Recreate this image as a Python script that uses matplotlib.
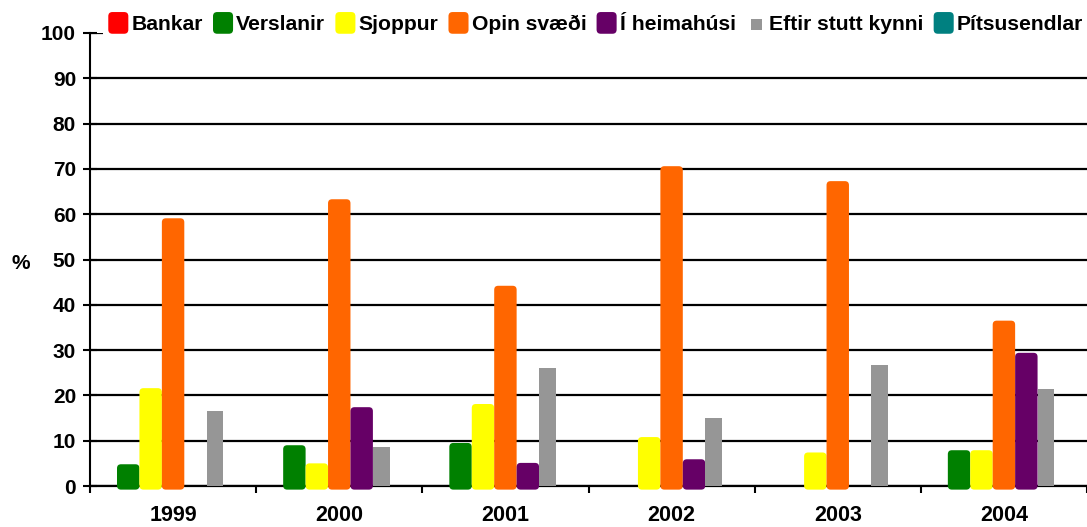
import numpy as np
import matplotlib.pyplot as plt
from matplotlib.patches import FancyBboxPatch, Patch
from matplotlib.legend_handler import HandlerPatch

plt.rcParams['font.family'] = ['Liberation Sans', 'DejaVu Sans']
plt.rcParams['font.weight'] = 'bold'

years = ['1999', '2000', '2001', '2002', '2003', '2004']
series = ['Bankar', 'Verslanir', 'Sjoppur', 'Opin svæði', 'Í heimahúsi',
          'Eftir stutt kynni', 'Pítsusendlar']
bankar = [0, 0, 0, 0, 0, 0]
verslanir = [4.8, 9.0, 9.5, 0, 0, 7.9]
sjoppur = [21.6, 5.0, 18.1, 10.8, 7.4, 7.9]
opin_svaedi = [59.1, 63.3, 44.2, 70.6, 67.3, 36.5]
i_heimahusi = [0, 17.4, 5.1, 5.9, 0, 29.4]
eftir_stutt_kynni = [16.6, 8.5, 26.0, 15.0, 26.7, 21.4]
pitsusendlar = [0, 0, 0, 0, 0, 0]

values = [bankar, verslanir, sjoppur, opin_svaedi, i_heimahusi,
          eftir_stutt_kynni, pitsusendlar]
colors = ['#FF0000', '#008000', '#FFFF00', '#FF6600', '#660066', '#969696', '#008080']
rounded = [True, True, True, True, True, False, True]

fig = plt.figure(figsize=(10.87, 5.27), dpi=100)
ax = fig.add_axes([90/1087, 1-486/527, 997/1087, 453/527])

w = 0.135
x = np.arange(len(years)) + 0.5
rx = 4/166.2
asp = (4/4.53) / rx
for j, vals in enumerate(values):
    left = x + (j - 3.5) * w
    bw = w if rounded[j] else 0.1
    bars = ax.bar(left, vals, width=bw, align='edge', color=colors[j], zorder=3)
    if not rounded[j]:
        continue
    # swap the plain rectangles for rounded ones, a bit below the baseline
    for r in bars:
        h = r.get_height()
        r.remove()
        if h <= 0:
            continue
        p = FancyBboxPatch((r.get_x(), -0.8), r.get_width(), h + 0.8,
                           boxstyle=f'round,pad=0,rounding_size={rx}',
                           mutation_aspect=asp, facecolor=r.get_facecolor(),
                           edgecolor='none', zorder=3, clip_on=False)
        ax.add_patch(p)

ax.set_xlim(0, 6)
ax.set_ylim(0, 100)
ax.set_yticks(np.arange(0, 101, 10))
ax.grid(axis='y', color='black', linewidth=1.6, zorder=1)
ax.set_axisbelow(True)
for s in ['top', 'right']:
    ax.spines[s].set_visible(False)
ax.spines['left'].set_linewidth(1.5)
ax.spines['bottom'].set_linewidth(1.6)
ax.tick_params(axis='y', direction='inout', length=10, width=1.5, labelsize=15, pad=5)
ax.set_xticks(np.arange(0, 7))
ax.set_xticklabels([])
ax.set_xticks(x, minor=True)
ax.set_xticklabels(years, minor=True, fontsize=15.5)
ax.tick_params(axis='x', which='major', direction='out', length=5, width=1.5)
ax.tick_params(axis='x', which='minor', length=0, pad=14)
ax.set_ylabel('%', rotation=0, fontsize=15, fontweight='bold')
ax.yaxis.set_label_coords(-0.0697, 0.47)


def rounded_handle(legend, orig_handle, xdescent, ydescent, width, height, fontsize):
    return FancyBboxPatch((-xdescent, -ydescent - 3), width, height + 5,
                          boxstyle='round,pad=0,rounding_size=3')


def square_handle(legend, orig_handle, xdescent, ydescent, width, height, fontsize):
    return FancyBboxPatch((-xdescent + width*0.25, -ydescent), width*0.55, width*0.55,
                          boxstyle='square,pad=0')


handles = [Patch(facecolor=c, edgecolor='none') for c in colors]
hmap = {h: HandlerPatch(patch_func=rounded_handle if rounded[i] else square_handle)
        for i, h in enumerate(handles)}
leg = fig.legend(handles, series, loc='center left', bbox_to_anchor=(103/1087, 1-24/527),
                 ncol=7, fontsize=15.2, handlelength=0.95, handleheight=0.7,
                 handletextpad=0.15, columnspacing=0.48, borderpad=0.25,
                 borderaxespad=0, frameon=True, facecolor='white', edgecolor='none',
                 framealpha=1, fancybox=False, handler_map=hmap)

fig.savefig('out.png', dpi=100)
